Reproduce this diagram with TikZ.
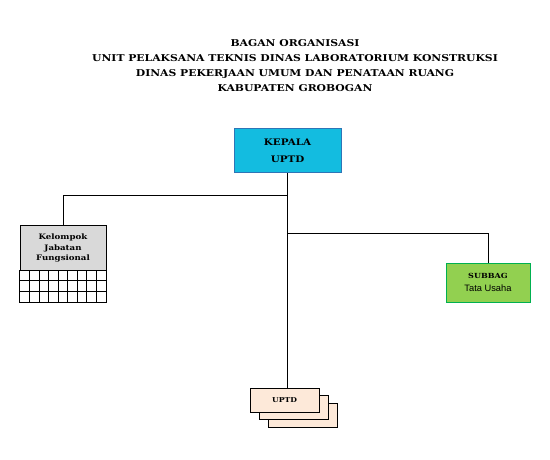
\documentclass[tikz,border=0pt]{standalone}
\usepackage{fontspec}
\setmainfont[FakeStretch=1.15]{DejaVu Serif}
\newfontfamily\arial{Liberation Sans}
\newlength{\du}
\setlength{\du}{1pt}
\definecolor{kepalafill}{rgb}{0.075, 0.737, 0.878}
\definecolor{kepalaline}{rgb}{0.180, 0.459, 0.714}
\definecolor{subbagfill}{rgb}{0.573, 0.816, 0.314}
\definecolor{subbagline}{rgb}{0.000, 0.690, 0.314}
\definecolor{jabatanfill}{rgb}{0.851, 0.851, 0.851}
\definecolor{uptdfill}{rgb}{0.992, 0.914, 0.851}
\tikzset{
  kotak/.style={draw, line width=1\du, align=center, inner sep=0pt},
  garis/.style={line width=1\du, draw=black},
}
\begin{document}
\begin{tikzpicture}[x=1\du,y=-1\du]
\useasboundingbox (0,0) rectangle (550,460);
% judul
\node[align=center, font=\bfseries\fontsize{9.4}{15}\selectfont] (judul) at (295,66)
  {BAGAN ORGANISASI\\UNIT PELAKSANA TEKNIS DINAS LABORATORIUM KONSTRUKSI\\DINAS PEKERJAAN UMUM DAN PENATAAN RUANG\\KABUPATEN GROBOGAN};
% kepala
\node[kotak, fill=kepalafill, draw=kepalaline, minimum width=107\du, minimum height=44\du,
  font=\bfseries\fontsize{9}{17}\selectfont] (kepala) at (287.5,151) {KEPALA\\UPTD};
% kelompok jabatan fungsional
\node[kotak, fill=jabatanfill, minimum width=86\du, minimum height=44\du,
  font=\bfseries\fontsize{7.5}{10.5}\selectfont] (kelompok) at (63,248) {Kelompok\\Jabatan\\Fungsional};
\draw[garis] (kelompok.south west) rectangle (106,302);
\foreach \i in {1,...,8}
  \draw[garis] (20+\i*9.556,270) -- (20+\i*9.556,302);
\foreach \j in {1,2}
  \draw[garis] (20,270+\j*10.667) -- (106,270+\j*10.667);
% subbag
\node[kotak, fill=subbagfill, draw=subbagline, minimum width=84\du, minimum height=39\du,
  font=\fontsize{7}{13}\selectfont] (subbag) at (488,282.5) {\bfseries SUBBAG\\{\arial\fontsize{9.3}{13}\selectfont Tata Usaha}};
% uptd
\node[kotak, fill=uptdfill, minimum width=69\du, minimum height=24\du] (uptd3) at (302.5,415) {};
\node[kotak, fill=uptdfill, minimum width=69\du, minimum height=24\du] (uptd2) at (294,407) {};
\node[kotak, fill=uptdfill, minimum width=69\du, minimum height=24\du,
  font=\bfseries\fontsize{6.7}{8}\selectfont] (uptd) at (284.5,400) {UPTD};
% garis
\coordinate (cabkiri) at (288,196);
\coordinate (cabkanan) at (288,234);
\draw[garis] (kepala.south) -- (kepala.south |- uptd.north);
\draw[garis] (kelompok.north) |- (cabkiri);
\draw[garis] (cabkanan) -| (subbag.north);
\end{tikzpicture}
\end{document}
